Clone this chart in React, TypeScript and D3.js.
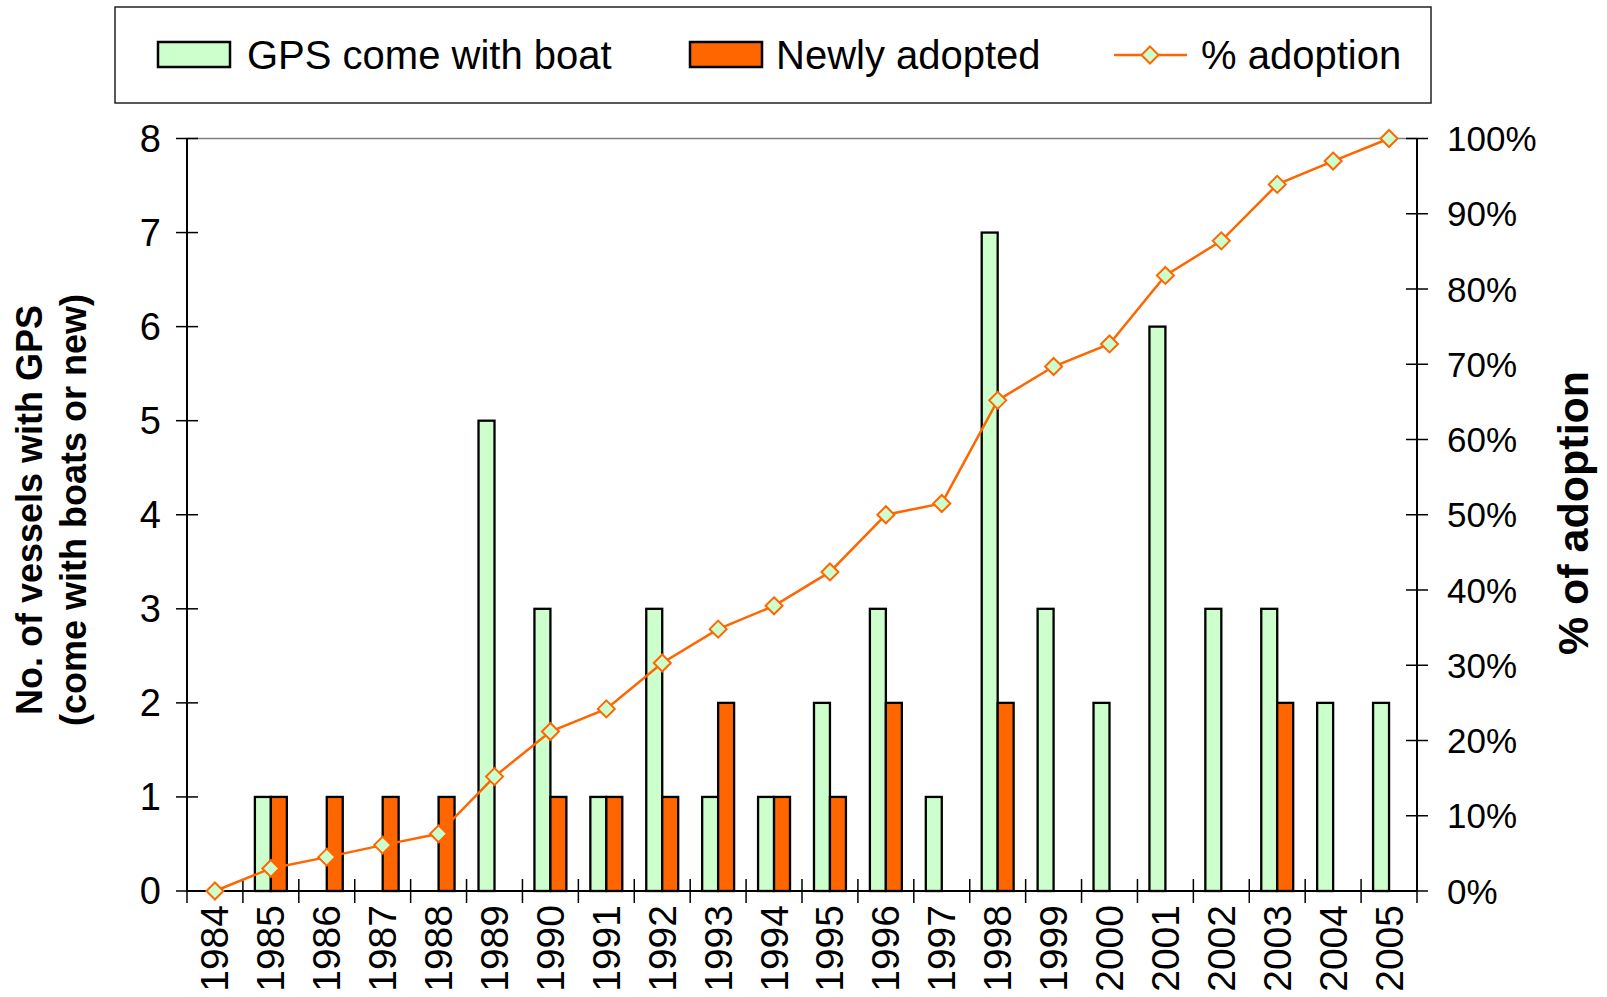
import React from 'react';
import * as d3 from 'd3';

// categories and series
const years = ['1984', '1985', '1986', '1987', '1988', '1989', '1990', '1991', '1992', '1993', '1994',
  '1995', '1996', '1997', '1998', '1999', '2000', '2001', '2002', '2003', '2004', '2005'];
const gpsWithBoat = [0, 1, 0, 0, 0, 5, 3, 1, 3, 1, 1, 2, 3, 1, 7, 3, 2, 6, 3, 3, 2, 2];
const newlyAdopted = [0, 1, 1, 1, 1, 0, 1, 1, 1, 2, 1, 1, 2, 0, 2, 0, 0, 0, 0, 2, 0, 0];
const adoptionPct = [0, 3.0, 4.5, 6.1, 7.6, 15.2, 21.2, 24.2, 30.3, 34.8, 37.9, 42.4, 50.0, 51.5,
  65.2, 69.7, 72.7, 81.8, 86.4, 93.9, 97.0, 100];
const leftTicks = [0, 1, 2, 3, 4, 5, 6, 7, 8];
const rightTicks = [0, 10, 20, 30, 40, 50, 60, 70, 80, 90, 100];

const W = 1607;
const H = 997;
const FONT = '"Liberation Sans", Arial, sans-serif';
const GREEN = '#CCFFCC';
const ORANGE = '#FF6600';

const App: React.FC = () => {
  const left = 187, right = 1417, top = 138.5, bottom = 891;

  const x = d3.scaleBand<string>().domain(years).range([left, right]).padding(0);
  // gap width 150% like the spreadsheet default
  const xSub = d3.scaleBand<string>().domain(['gps', 'new']).range([0, x.bandwidth()])
    .paddingInner(0).paddingOuter(0.75);
  const yLeft = d3.scaleLinear().domain([0, 8]).range([bottom, top]);
  const yRight = d3.scaleLinear().domain([0, 100]).range([bottom, top]);

  const cx = (y: string) => (x(y) || 0) + x.bandwidth() / 2;

  const line = d3.line<number>()
    .x((_, i) => cx(years[i]))
    .y((d) => yRight(d));

  const diamond = (px: number, py: number, r: number) =>
    `M${px},${py - r}L${px + r},${py}L${px},${py + r}L${px - r},${py}Z`;

  const boundaries = years.map((y) => x(y) || 0).concat([right]);

  return (
    <svg width={W} height={H} style={{ position: 'absolute', left: 0, top: 0, background: '#fff' }}>
      <rect x={0} y={0} width={W} height={H} fill="#fff" />

      {/* legend */}
      <rect x={115} y={7} width={1316} height={96} fill="#fff" stroke="#222" strokeWidth={1.5} />
      <rect x={158} y={42} width={72} height={25} fill={GREEN} stroke="#000" strokeWidth={2.5} />
      <text x={247} y={69} fontFamily={FONT} fontSize={40}>GPS come with boat</text>
      <rect x={690} y={42} width={72} height={25} fill={ORANGE} stroke="#000" strokeWidth={2.5} />
      <text x={776} y={69} fontFamily={FONT} fontSize={40}>Newly adopted</text>
      <line x1={1114} x2={1187} y1={55} y2={55} stroke={ORANGE} strokeWidth={2.5} />
      <path d={diamond(1150, 55, 8.5)} fill={GREEN} stroke={ORANGE} strokeWidth={2} />
      <text x={1201} y={69} fontFamily={FONT} fontSize={40}>% adoption</text>

      {/* plot frame */}
      <line x1={left} x2={right} y1={top} y2={top} stroke="#808080" strokeWidth={1.5} />

      {/* bars */}
      {years.map((y, i) => (
        <g key={y} transform={`translate(${x(y)},0)`}>
          {gpsWithBoat[i] > 0 && (
            <rect x={xSub('gps')} y={yLeft(gpsWithBoat[i])} width={xSub.bandwidth()}
              height={bottom - yLeft(gpsWithBoat[i])} fill={GREEN} stroke="#000" strokeWidth={2.3} />
          )}
          {newlyAdopted[i] > 0 && (
            <rect x={xSub('new')} y={yLeft(newlyAdopted[i])} width={xSub.bandwidth()}
              height={bottom - yLeft(newlyAdopted[i])} fill={ORANGE} stroke="#000" strokeWidth={2.3} />
          )}
        </g>
      ))}

      {/* axes */}
      <line x1={left} x2={left} y1={top} y2={bottom} stroke="#000" strokeWidth={2} />
      <line x1={right} x2={right} y1={top} y2={bottom} stroke="#000" strokeWidth={2} />
      <line x1={left} x2={right} y1={bottom} y2={bottom} stroke="#000" strokeWidth={2} />

      {leftTicks.map((t) => (
        <g key={t}>
          <line x1={left - 11} x2={left + 11} y1={yLeft(t)} y2={yLeft(t)} stroke="#000" strokeWidth={1.5} />
          <text x={161} y={yLeft(t)} textAnchor="end" dominantBaseline="central"
            fontFamily={FONT} fontSize={38}>{t}</text>
        </g>
      ))}
      {rightTicks.map((t) => (
        <g key={t}>
          <line x1={right - 11} x2={right + 11} y1={yRight(t)} y2={yRight(t)} stroke="#000" strokeWidth={1.5} />
          <text x={1447} y={yRight(t)} textAnchor="start" dominantBaseline="central"
            fontFamily={FONT} fontSize={35}>{`${t}%`}</text>
        </g>
      ))}
      {boundaries.map((b, i) => (
        <line key={i} x1={b} x2={b} y1={bottom - 12} y2={bottom + 12} stroke="#000" strokeWidth={1.5} />
      ))}
      {years.map((y) => (
        <text key={y} transform={`translate(${cx(y)},905) rotate(-90)`} textAnchor="end"
          dominantBaseline="central" fontFamily={FONT} fontSize={39}>{y}</text>
      ))}

      {/* adoption line */}
      <path d={line(adoptionPct) || ''} fill="none" stroke={ORANGE} strokeWidth={2.5} />
      {adoptionPct.map((v, i) => (
        <path key={i} d={diamond(cx(years[i]), yRight(v), 8.5)} fill={GREEN} stroke={ORANGE} strokeWidth={2} />
      ))}

      {/* axis titles */}
      <g transform="translate(0,510) rotate(-90)" fontFamily={FONT} fontWeight="bold" fontSize={36}>
        <text x={0} y={42} textAnchor="middle">No. of vessels with GPS</text>
        <text x={0} y={86} textAnchor="middle">(come with boats or new)</text>
      </g>
      <text transform="translate(1588,513) rotate(-90)" textAnchor="middle" fontFamily={FONT}
        fontWeight="bold" fontSize={43}>% of adoption</text>
    </svg>
  );
};

export default App;
